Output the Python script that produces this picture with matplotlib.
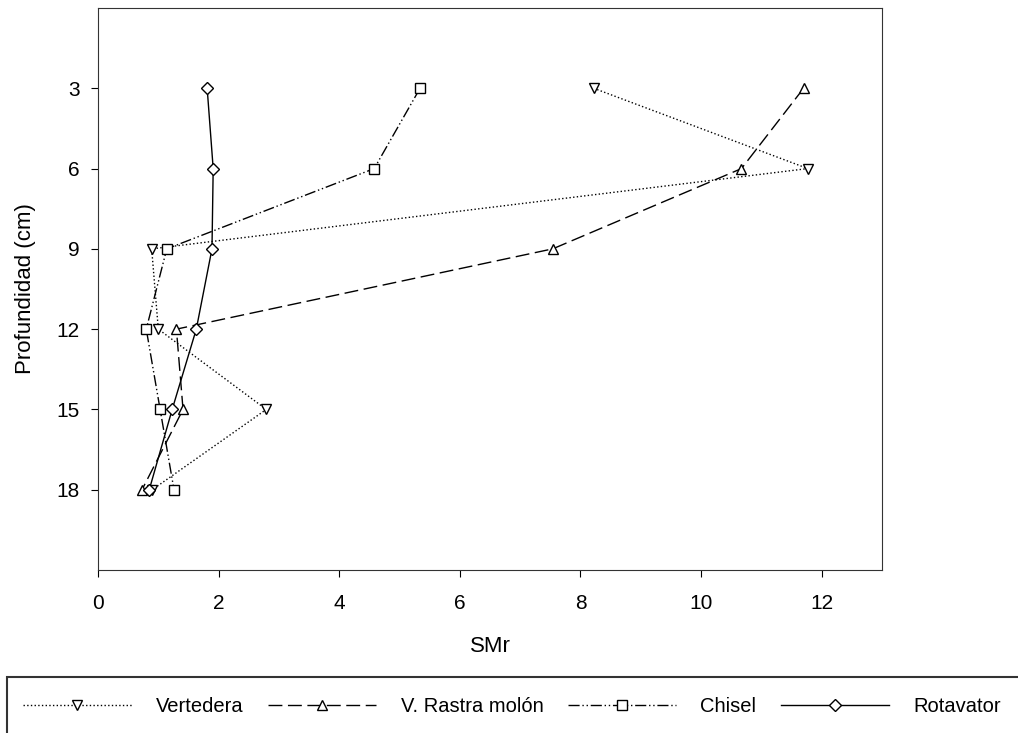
import matplotlib.pyplot as plt
from matplotlib.patches import Rectangle

plt.rcParams['font.family'] = ['Liberation Sans', 'DejaVu Sans']

# depth (cm)
depth = [3, 6, 9, 12, 15, 18]

# SMr values per tillage treatment
vertedera = [8.22, 11.77, 0.89, 1.00, 2.79, 0.90]
rastra = [11.70, 10.67, 7.54, 1.30, 1.41, 0.73]
chisel = [5.34, 4.58, 1.14, 0.80, 1.03, 1.26]
rotavator = [1.81, 1.91, 1.89, 1.63, 1.23, 0.85]

labels = ['Vertedera', 'V. Rastra molón', 'Chisel', 'Rotavator']

W, H = 1018, 733
fig = plt.figure(figsize=(W / 100, H / 100), dpi=100)
ax = fig.add_axes([98 / W, 1 - 570 / H, (882 - 98) / W, (570 - 8) / H])

kw = dict(color='black', lw=1.0, markerfacecolor='white', markeredgecolor='black',
          markersize=7, markeredgewidth=1.0)
ax.plot(vertedera, depth, linestyle=':', marker='v', label=labels[0], **kw)
ax.plot(rastra, depth, linestyle=(0, (10, 4)), marker='^', label=labels[1], **kw)
ax.plot(chisel, depth, linestyle=(0, (8, 2, 1, 2, 1, 2)), marker='s', label=labels[2], **kw)
ax.plot(rotavator, depth, linestyle='-', marker='D', label=labels[3],
        **{**kw, 'markersize': 6})

ax.set_xlim(0, 13)
ax.set_ylim(21, 0)
ax.set_xticks([0, 2, 4, 6, 8, 10, 12])
ax.set_yticks(depth)
ax.tick_params(direction='out', length=5, labelsize=15)
ax.tick_params(axis='x', pad=12)
ax.tick_params(axis='y', pad=8)
for s in ax.spines.values():
    s.set_color('#333333')
ax.set_xlabel('SMr', fontsize=16, labelpad=17)
ax.set_ylabel('Profundidad (cm)', fontsize=16, labelpad=15)

# legend box spanning the figure bottom
fig.patches.append(Rectangle((7 / W, -0.01), 1.05, (H - 677) / H + 0.01,
                             transform=fig.transFigure, fill=False,
                             edgecolor='#333333', lw=1.5))
fig.legend(loc='center left', bbox_to_anchor=(23 / W, 1 - 707 / H),
           ncol=4, fontsize=14.5, handlelength=5.4, handletextpad=1.2,
           columnspacing=1.2, borderpad=0, borderaxespad=0, frameon=False)

fig.savefig('out.png', dpi=100)
